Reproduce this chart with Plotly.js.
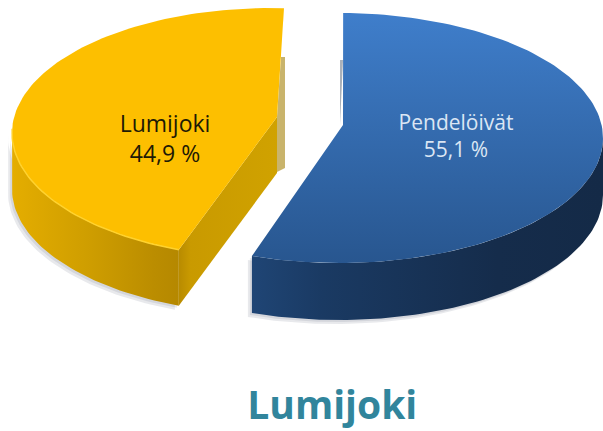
<!DOCTYPE html>
<html><head><meta charset="utf-8">
<script src="https://cdn.plot.ly/plotly-3.0.1.min.js"></script>
<style>html,body{margin:0;padding:0;background:#fff}#c{width:603px;height:431px}</style>
</head><body><div id="c"></div>
<script>
const categories = ["Pendelöivät", "Lumijoki"];
const values = [55.1, 44.9];
const valueLabels = ["55,1 %", "44,9 %"];
const chartTitle = "Lumijoki";

// Tilted-disc geometry: each exploded slice's own ellipse, apex and extrusion depth
const blueGeom = {cx:339, cy:138, a:264, b:125, ax:343, ay:125, depth:57, t0:0.9};
const goldGeom = {cx:272, cy:133, a:260, b:125, ax:277, ay:117, depth:56, t0:201};

function rim(g, from, to){
  const xs=[], ys=[], n=Math.max(2,Math.ceil(Math.abs(to-from)/1.5));
  for(let i=0;i<=n;i++){
    const t=(from+(to-from)*i/n)*Math.PI/180;
    xs.push(g.cx+g.a*Math.sin(t)); ys.push(g.cy-g.b*Math.cos(t));
  }
  return {xs,ys};
}
function poly(x,y,grad,line){
  return {type:'scatter',mode:'lines',x:x.concat([x[0]]),y:y.concat([y[0]]),fill:'toself',
    fillcolor:typeof grad==='string'?grad:undefined,
    fillgradient:typeof grad==='string'?undefined:grad,
    line:line||{width:0,color:'rgba(0,0,0,0)'},hoverinfo:'skip',showlegend:false};
}
function vert(c0,c1){return {type:'vertical',colorscale:[[0,c0],[1,c1]]};}
function horiz(stops){return {type:'horizontal',colorscale:stops};}

const blueSweep = values[0]*3.6, goldSweep = values[1]*3.6;
const blueEnd = blueGeom.t0+blueSweep, goldEnd = goldGeom.t0+goldSweep;

function sidePts(g,from,to){
  const r=rim(g,from,to);
  return {x:r.xs.concat(r.xs.slice().reverse()),
          y:r.ys.concat(r.ys.slice().reverse().map(v=>v+g.depth))};
}
const traces=[];
// soft shadows
function shadow(g,from,to,extra){
  [4,2].forEach(off=>{
    const s=sidePts(g,from,to);
    traces.push(poly(s.x.map(v=>v+extra*off),s.y.map(v=>v+off),'rgba(110,120,135,0.16)'));
  });
}
shadow(blueGeom,88,blueEnd,-1);
shadow(goldGeom,goldGeom.t0,272,-1);

// back-cut strips seen through the gap
traces.push(poly([goldGeom.ax,goldGeom.ax+4,goldGeom.ax+8,goldGeom.ax+8,goldGeom.ax],
                 [goldGeom.ay,57,57,goldGeom.ay+51,goldGeom.ay+55],'#c9b46c'));
traces.push(poly([blueGeom.ax,blueGeom.ax-3,blueGeom.ax-3],[60,60,blueGeom.ay],'#aab1ba'));

// gold side faces
const gEnd=rim(goldGeom,goldGeom.t0,goldGeom.t0);
traces.push(poly([goldGeom.ax,gEnd.xs[0],gEnd.xs[0],goldGeom.ax],
  [goldGeom.ay,gEnd.ys[0],gEnd.ys[0]+goldGeom.depth,goldGeom.ay+goldGeom.depth],
  horiz([[0,'#b88b00'],[0.12,'#c99a00'],[1,'#d0a200']])));
const gs=sidePts(goldGeom,goldGeom.t0,272);
traces.push(poly(gs.x,gs.y,horiz([[0,'#e4ad00'],[0.45,'#cf9e00'],[0.85,'#bb8d00'],[1,'#b58800']])));
// blue side face
const bs=sidePts(blueGeom,90,blueEnd);
traces.push(poly(bs.x,bs.y,horiz([[0,'#1f4575'],[0.2,'#1a3a63'],[0.7,'#152c4b'],[1,'#142a47']])));

// top faces
const bR=rim(blueGeom,blueGeom.t0,blueEnd);
traces.push(poly([blueGeom.ax].concat(bR.xs),[blueGeom.ay].concat(bR.ys),vert('#28568f','#3f7ecb')));
const gR=rim(goldGeom,goldGeom.t0,goldEnd);
traces.push(poly([goldGeom.ax].concat(gR.xs),[goldGeom.ay].concat(gR.ys),'#fdbf00'));
// rim highlight
const gH=rim(goldGeom,goldGeom.t0,272);
traces.push({type:'scatter',mode:'lines',x:gH.xs,y:gH.ys,line:{color:'#ffd22e',width:1.5},hoverinfo:'skip',showlegend:false});

// data labels
traces.push({type:'scatter',mode:'text',x:[456,165],y:[138,141],
  text:[categories[0]+'<br>'+valueLabels[0],categories[1]+'<br>'+valueLabels[1]],
  textposition:'middle center',textfont:{family:'"Open Sans", sans-serif',size:[21,23],color:['#dbe6f4','#1e1a05']},
  hoverinfo:'skip',showlegend:false});

const layout={width:603,height:431,margin:{l:0,r:0,t:0,b:0},paper_bgcolor:'#fff',plot_bgcolor:'#fff',showlegend:false,
  xaxis:{range:[0,603],visible:false,fixedrange:true},
  yaxis:{range:[431,0],visible:false,fixedrange:true},
  title:{text:'<b>'+chartTitle+'</b>',x:0.551,xanchor:'center',y:0.06,yanchor:'middle',
    font:{family:'"Open Sans", sans-serif',size:39,color:'#31859c'}}};
Plotly.newPlot('c',traces,layout,{displayModeBar:false,staticPlot:true});
</script></body></html>
